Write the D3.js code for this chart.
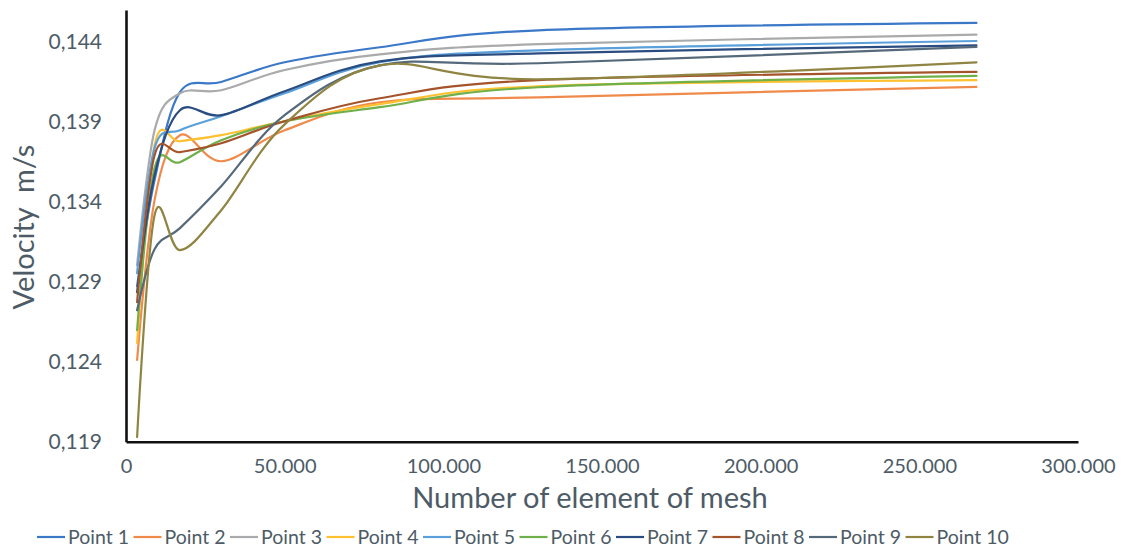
<!DOCTYPE html>
<html>
<head>
<meta charset="utf-8">
<script src="https://cdn.jsdelivr.net/npm/d3@7"></script>
<style>
  html, body { margin: 0; padding: 0; background: #ffffff; }
  svg { display: block; }
  text { font-family: Lato, "Open Sans", sans-serif; fill: #4d5b66; }
</style>
</head>
<body>
<svg id="chart" width="1124" height="554"></svg>
<script>
// ---- data ----
const meshSizes = [3500, 9000, 17000, 30000, 50000, 80000, 130000, 268000];
const seriesNames = ["Point 1", "Point 2", "Point 3", "Point 4", "Point 5",
                     "Point 6", "Point 7", "Point 8", "Point 9", "Point 10"];
const point1  = [0.12873, 0.13536, 0.14086, 0.14150, 0.14273, 0.14367, 0.14473, 0.14519];
const point2  = [0.12411, 0.13411, 0.13817, 0.13654, 0.13848, 0.14023, 0.14054, 0.14119];
const point3  = [0.13004, 0.13848, 0.14079, 0.14098, 0.14225, 0.14323, 0.14386, 0.14446];
const point4  = [0.12517, 0.13754, 0.13779, 0.13817, 0.13904, 0.14011, 0.14123, 0.14161];
const point5  = [0.12954, 0.13736, 0.13848, 0.13936, 0.14079, 0.14273, 0.14348, 0.14406];
const point6  = [0.12598, 0.13611, 0.13648, 0.13786, 0.13904, 0.13992, 0.14117, 0.14188];
const point7  = [0.12836, 0.13567, 0.13973, 0.13942, 0.14092, 0.14279, 0.14329, 0.14379];
const point8  = [0.12773, 0.13692, 0.13711, 0.13767, 0.13904, 0.14048, 0.14161, 0.14213];
const point9  = [0.12722, 0.13104, 0.13236, 0.13498, 0.13942, 0.14254, 0.14267, 0.14369];
const point10 = [0.11929, 0.13317, 0.13098, 0.13348, 0.13885, 0.14254, 0.14167, 0.14273];
const seriesValues = [point1, point2, point3, point4, point5, point6, point7, point8, point9, point10];
const seriesColors = ["#3b78c8", "#f08a4b", "#a9aaab", "#fdc02f", "#5ba0da",
                      "#6fb04a", "#2a4c80", "#a4532a", "#55697a", "#8f8442"];
const yTickValues = [0.119, 0.124, 0.129, 0.134, 0.139, 0.144];
const xTickValues = [0, 50000, 100000, 150000, 200000, 250000, 300000];
const xTitle = "Number of element of mesh";
const yTitle = "Velocity  m/s";

// ---- layout ----
const svg = d3.select("#chart");
const plotLeft = 126, plotRight = 1078, plotTop = 10, plotBottom = 441.7;

const locale = d3.formatLocale({ decimal: ",", thousands: ".", grouping: [3], currency: ["", ""] });
const fmtY = locale.format(".3f");
const fmtX = locale.format(",d");

const x = d3.scaleLinear().domain([0, 300000]).range([plotLeft, plotRight]);
const y = d3.scaleLinear().domain([0.119, 0.146]).range([plotBottom, plotTop]);

// series
const line = d3.line()
  .x(d => x(d[0]))
  .y(d => y(d[1]))
  .curve(d3.curveCardinal.tension(0));

const g = svg.append("g");
seriesValues.forEach((vals, i) => {
  const pts = meshSizes.map((m, k) => [m, vals[k]]);
  g.append("path")
    .datum(pts)
    .attr("d", line)
    .attr("fill", "none")
    .attr("stroke", seriesColors[i])
    .attr("stroke-width", 2.2)
    .attr("stroke-linejoin", "round")
    .attr("stroke-linecap", "round");
});

// axes
const yAxis = d3.axisLeft(y).tickValues(yTickValues).tickFormat(fmtY)
  .tickSize(0).tickSizeOuter(0).tickPadding(24);
const yg = svg.append("g").attr("transform", `translate(${plotLeft},0)`).call(yAxis);
yg.selectAll("text").style("font-size", "21px").style("font-family", "Lato, sans-serif").attr("fill", "#4d5b66");
yg.select(".domain").attr("stroke", "#111").attr("stroke-width", 2.6);

const xAxis = d3.axisBottom(x).tickValues(xTickValues).tickFormat(fmtX)
  .tickSize(0).tickSizeOuter(0).tickPadding(17);
const xg = svg.append("g").attr("transform", `translate(0,${plotBottom})`).call(xAxis);
xg.selectAll("text").style("font-size", "20px").style("font-family", "Lato, sans-serif").attr("fill", "#4d5b66");
xg.select(".domain").attr("stroke", "#111").attr("stroke-width", 2.6);

// titles
svg.append("text")
  .attr("x", 590).attr("y", 508)
  .attr("text-anchor", "middle")
  .style("font-size", "29px")
  .text(xTitle);

svg.append("text")
  .attr("transform", "translate(34,227) rotate(-90)")
  .attr("text-anchor", "middle")
  .style("font-size", "29px")
  .style("white-space", "pre")
  .text(yTitle);

// legend
const legend = svg.append("g").attr("transform", "translate(37,537)");
seriesNames.forEach((name, i) => {
  const lg = legend.append("g").attr("transform", `translate(${i * 96.5},0)`);
  lg.append("line").attr("x1", 0).attr("x2", 28).attr("y1", 0).attr("y2", 0)
    .attr("stroke", seriesColors[i]).attr("stroke-width", 2.2);
  lg.append("text").attr("x", 31).attr("y", 0).attr("dy", "0.35em")
    .style("font-size", "19.5px").text(name);
});
</script>
</body>
</html>
